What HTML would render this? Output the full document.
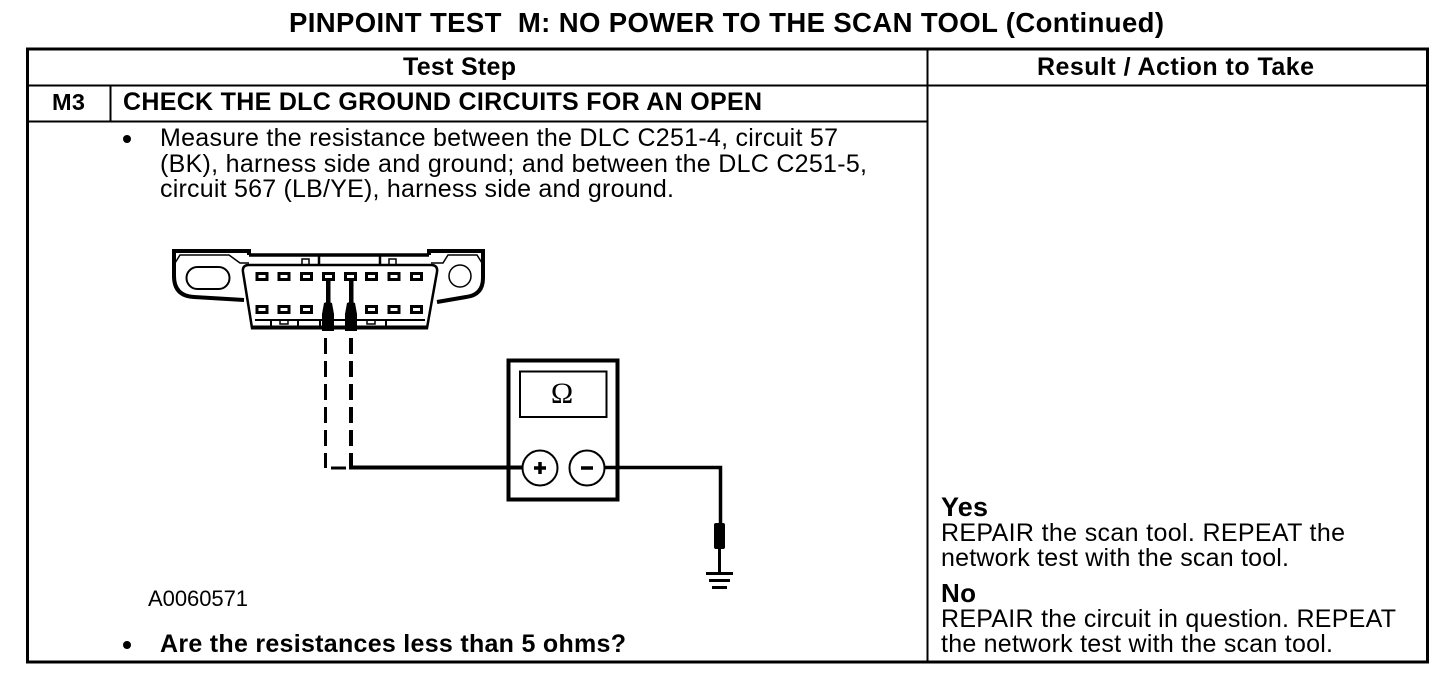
<!DOCTYPE html>
<html>
<head>
<meta charset="utf-8">
<style>
html,body{margin:0;padding:0;background:#fff;width:1456px;height:682px;overflow:hidden}
svg{display:block}
text{font-family:"Liberation Sans",sans-serif;fill:#000}
.b{font-weight:bold}
</style>
</head>
<body>
<svg width="1456" height="682" viewBox="0 0 1456 682" xmlns="http://www.w3.org/2000/svg">
<!-- table -->
<g fill="none" stroke="#000">
<rect x="27.500" y="49" width="1400" height="613" stroke-width="3"/>
<path d="M27 85.500H1428" stroke-width="2"/>
<path d="M27 121.500H927.500" stroke-width="2"/>
<path d="M927.500 49V662" stroke-width="2"/>
<path d="M110.500 85V121" stroke-width="2"/>
</g>
<!-- text -->
<text class="b" x="289" y="32" font-size="27.500" textLength="875" lengthAdjust="spacing">PINPOINT TEST&#160; M: NO POWER TO THE SCAN TOOL (Continued)</text>
<text class="b" x="403" y="75" font-size="25" textLength="113" lengthAdjust="spacing">Test Step</text>
<text class="b" x="1037" y="75" font-size="25" textLength="277" lengthAdjust="spacing">Result / Action to Take</text>
<text class="b" x="52" y="110" font-size="23.500" textLength="33" lengthAdjust="spacing">M3</text>
<text class="b" x="123" y="110" font-size="25" textLength="639" lengthAdjust="spacing">CHECK THE DLC GROUND CIRCUITS FOR AN OPEN</text>
<circle cx="127" cy="139" r="4" fill="#000"/>
<text x="160" y="146" font-size="25" textLength="678" lengthAdjust="spacing">Measure the resistance between the DLC C251-4, circuit 57</text>
<text x="160" y="172" font-size="25" textLength="707" lengthAdjust="spacing">(BK), harness side and ground; and between the DLC C251-5,</text>
<text x="160" y="197" font-size="25" textLength="514" lengthAdjust="spacing">circuit 567 (LB/YE), harness side and ground.</text>
<text x="148" y="606" font-size="22" textLength="100" lengthAdjust="spacing">A0060571</text>
<circle cx="127" cy="645" r="4" fill="#000"/>
<text class="b" x="160" y="652" font-size="25" textLength="466" lengthAdjust="spacing">Are the resistances less than 5 ohms?</text>
<text class="b" x="941" y="516" font-size="27" textLength="47" lengthAdjust="spacing">Yes</text>
<text x="941" y="541" font-size="25" textLength="404" lengthAdjust="spacing">REPAIR the scan tool. REPEAT the</text>
<text x="941" y="566" font-size="25" textLength="348" lengthAdjust="spacing">network test with the scan tool.</text>
<text class="b" x="941" y="602" font-size="26" textLength="35" lengthAdjust="spacing">No</text>
<text x="941" y="627" font-size="25" textLength="455" lengthAdjust="spacing">REPAIR the circuit in question. REPEAT</text>
<text x="941" y="652" font-size="25" textLength="392" lengthAdjust="spacing">the network test with the scan tool.</text>
<!-- connector -->
<g fill="none" stroke="#000">
<path d="M249 255V251H174V276Q174 296 194 297L244 300" stroke-width="4"/>
<path d="M429 255V251H483V278Q483 295 466 297L437 302" stroke-width="4"/>
<path d="M249 255H429" stroke-width="3.500"/>
<path d="M175 263L180 255H229L240 263H249M431 263H443L448 255H477L482 263" stroke-width="1.500"/>
<path d="M319 255V265M380 255V265" stroke-width="2.500"/>
<path d="M302 259h7v6h-7zM389 259h7v6h-7z" stroke-width="1.500"/>
<path d="M249 265H431Q438 265 437 272L427 328H252L243 272Q242 265 249 265Z" stroke-width="2.500"/>
<path d="M251 327.500H428" stroke-width="4"/>
<path d="M255 320H425" stroke-width="2"/>
<path d="M271 320V327M298 320V327M320 320V327M355 320V327M386 320V327" stroke-width="2"/>
<path d="M280 320h8v4h-8zM367 320h8v4h-8z" stroke-width="1.500"/>
<rect x="186.500" y="267" width="43" height="22" rx="11" stroke-width="2"/>
<circle cx="460" cy="276" r="11" stroke-width="1.500"/>
<g stroke-width="3">
<rect x="257" y="273.500" width="10" height="6"/>
<rect x="279" y="273.500" width="10" height="6"/>
<rect x="301.500" y="273.500" width="10" height="6"/>
<rect x="323.500" y="273.500" width="10" height="6"/>
<rect x="345.500" y="273.500" width="10" height="6"/>
<rect x="366.500" y="273.500" width="10" height="6"/>
<rect x="389" y="273.500" width="10" height="6"/>
<rect x="411.500" y="273.500" width="10" height="6"/>
<rect x="257" y="306.500" width="10" height="6"/>
<rect x="279" y="306.500" width="10" height="6"/>
<rect x="301.500" y="306.500" width="10" height="6"/>
<rect x="366.500" y="306.500" width="10" height="6"/>
<rect x="389" y="306.500" width="10" height="6"/>
<rect x="411.500" y="306.500" width="10" height="6"/>
</g>
</g>
<!-- probes -->
<g fill="#000">
<rect x="326" y="280" width="4.500" height="24"/>
<rect x="349" y="280" width="4.500" height="24"/>
<path d="M324 303Q328 301 332 303L334 314V331H322V314Z"/>
<path d="M347 303Q351 301 355 303L357 314V331H345V314Z"/>
<rect x="714" y="523" width="11" height="26" rx="2"/>
</g>
<!-- wires -->
<g fill="none" stroke="#000">
<path d="M325.500 338V468" stroke-width="3" stroke-dasharray="16 7"/>
<path d="M351 338V466" stroke-width="4" stroke-dasharray="16 7"/>
<path d="M331 468H346" stroke-width="3"/>
<path d="M349 467.500H522" stroke-width="4"/>
<path d="M351 456V469" stroke-width="4"/>
<path d="M604 467.500H720.500V523" stroke-width="3.500"/>
<path d="M719.500 549V572" stroke-width="3"/>
<path d="M706 573.500H733" stroke-width="3"/>
<path d="M709 580.500H730" stroke-width="3"/>
<path d="M712 587.500H727" stroke-width="3"/>
</g>
<!-- meter -->
<g fill="none" stroke="#000">
<rect x="508.500" y="360.500" width="109" height="139" stroke-width="4"/>
<rect x="520" y="371.500" width="86.500" height="45.500" stroke-width="2"/>
</g>
<circle cx="540" cy="468" r="17.500" fill="#fff" stroke="#000" stroke-width="2"/>
<circle cx="587" cy="468" r="17.500" fill="#fff" stroke="#000" stroke-width="2"/>
<path d="M540 462V474M534 468H546M581 468H593" stroke="#000" stroke-width="3.500" fill="none"/>
<text x="562" y="403" font-size="30" text-anchor="middle" style="font-family:'Liberation Serif',serif">Ω</text>
</svg>
</body>
</html>
